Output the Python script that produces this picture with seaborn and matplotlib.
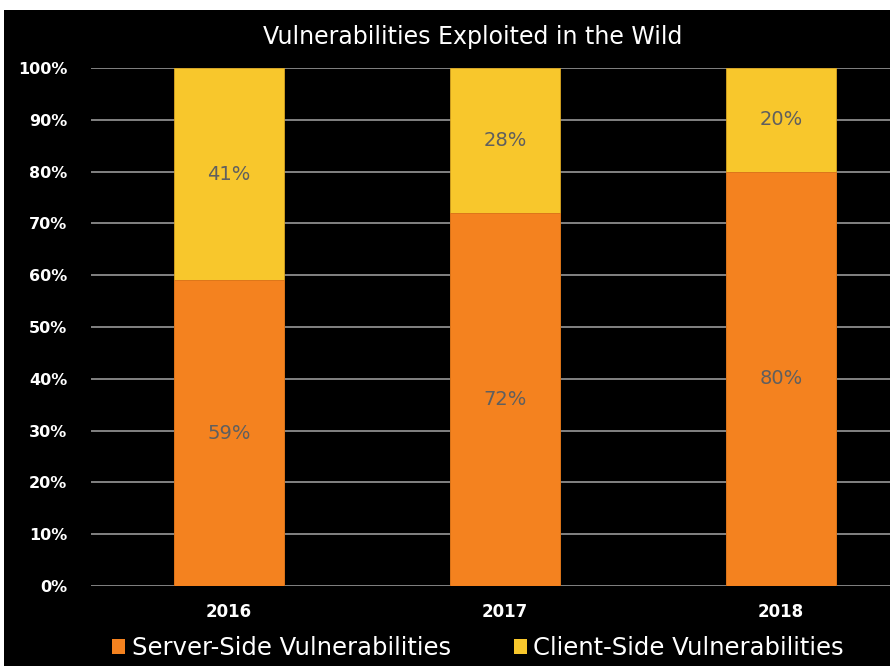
import matplotlib
matplotlib.use("Agg")
import matplotlib.pyplot as plt
import seaborn as sns
import pandas as pd
from matplotlib.patches import Rectangle, Patch

years = ["2016", "2017", "2018"]
server_side = [59, 72, 80]
client_side = [41, 28, 20]
series_names = ["Server-Side Vulnerabilities", "Client-Side Vulnerabilities"]
y_ticks = [0, 10, 20, 30, 40, 50, 60, 70, 80, 90, 100]

orange = "#F4821F"
yellow = "#F8C72C"

sns.set_style("dark")
plt.rcParams['font.family'] = ['DejaVu Sans']

df = pd.DataFrame({"year": years, "server": server_side, "client": client_side})
df["total"] = df["server"] + df["client"]

fig = plt.figure(figsize=(8.9, 6.66), dpi=100, facecolor="white")
# black chart background (screenshot has a thin white margin top/left)
fig.patches.append(Rectangle((4 / 890, 0), 1, 1 - 10 / 666, transform=fig.transFigure,
                             facecolor="black", edgecolor="none", zorder=-5))

ax = fig.add_axes([91 / 890, 1 - 586 / 666, 828 / 890, 518 / 666])
ax.set_facecolor("black")

sns.barplot(data=df, x="year", y="total", color=yellow, width=0.4, ax=ax, saturation=1,
            edgecolor="#d9a521", linewidth=0.6, zorder=3)
sns.barplot(data=df, x="year", y="server", color=orange, width=0.4, ax=ax, saturation=1,
            edgecolor="#d96f18", linewidth=0.6, zorder=3)

for i, (s, c) in enumerate(zip(server_side, client_side)):
    ax.text(i, s / 2, f"{s}%", ha="center", va="center", color="#5f5f5f", fontsize=14, zorder=5)
    ax.text(i, s + c / 2, f"{c}%", ha="center", va="center", color="#5f5f5f", fontsize=14, zorder=5)

ax.set_ylim(0, 100)
ax.set_xlim(-0.5, 2.5)
ax.set_yticks(y_ticks)
ax.set_yticklabels([f"{t}%" for t in y_ticks], color="white", fontsize=11.5, fontweight="bold")
ax.set_xticklabels(years, color="white", fontsize=12, fontweight="bold")
ax.tick_params(axis="x", length=0, pad=12)
ax.tick_params(axis="y", length=0, pad=17)
ax.grid(axis="y", color="#8c8c8c", linewidth=1.3, zorder=1)
ax.grid(axis="x", visible=False)
ax.set_axisbelow(True)
ax.set_xlabel("")
ax.set_ylabel("")
for sp in ax.spines.values():
    sp.set_visible(False)

fig.text(473 / 890, 1 - 37 / 666, "Vulnerabilities Exploited in the Wild", ha="center", va="center",
         color="white", fontsize=17)

handles = [Patch(facecolor=orange, edgecolor="none"), Patch(facecolor=yellow, edgecolor="none")]
leg = fig.legend(handles, series_names, loc="center", bbox_to_anchor=(478 / 890, 1 - 648 / 666),
                 ncol=2, frameon=False, fontsize=17.5, handlelength=0.55, handleheight=0.55,
                 handletextpad=0.25, columnspacing=2.6)
for t in leg.get_texts():
    t.set_color("white")

fig.savefig("out.png", dpi=100, facecolor="white")
